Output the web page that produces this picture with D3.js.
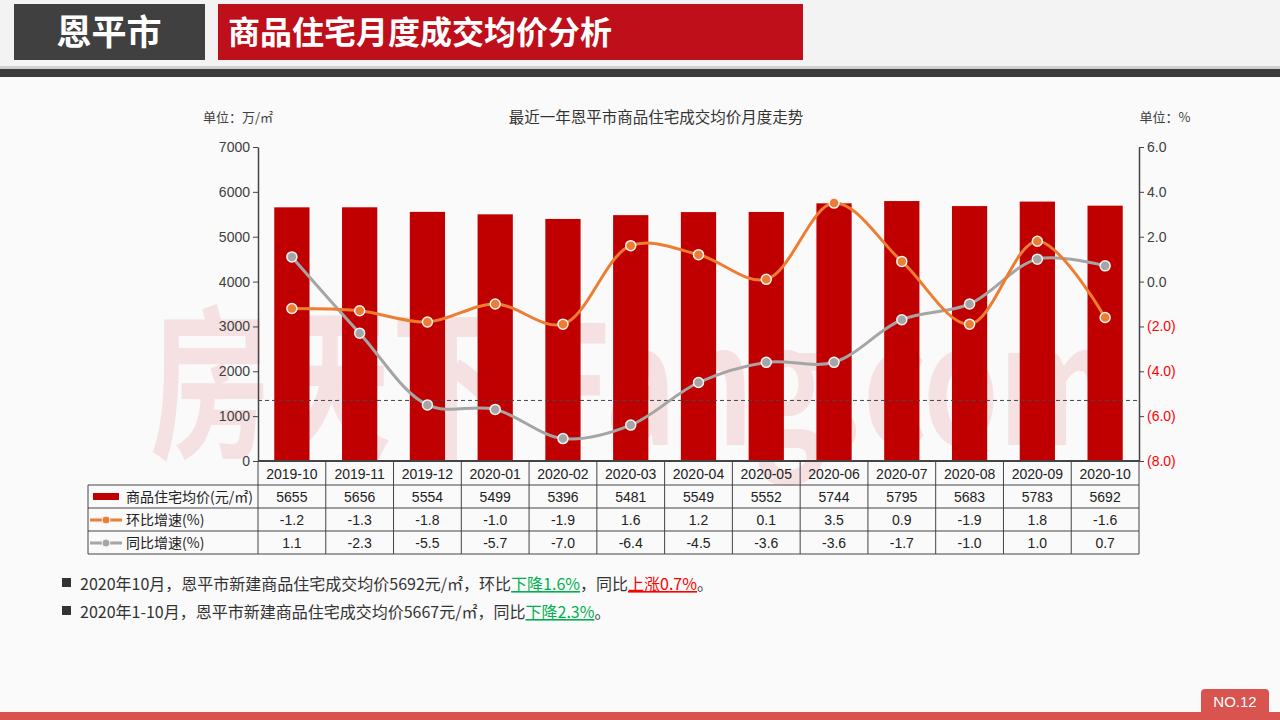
<!DOCTYPE html>
<html>
<head>
<meta charset="utf-8">
<script src="https://cdn.jsdelivr.net/npm/d3@7"></script>
<style>
body{margin:0;background:#fafafa;font-family:"Liberation Sans","Noto Sans CJK SC",sans-serif;}
svg{display:block;}
</style>
</head>
<body>
<script>
// data
var months=["2019-10","2019-11","2019-12","2020-01","2020-02","2020-03","2020-04","2020-05","2020-06","2020-07","2020-08","2020-09","2020-10"];
var price=[5655,5656,5554,5499,5396,5481,5549,5552,5744,5795,5683,5783,5692];
var hb=[-1.2,-1.3,-1.8,-1.0,-1.9,1.6,1.2,0.1,3.5,0.9,-1.9,1.8,-1.6];   // 环比
var tb=[1.1,-2.3,-5.5,-5.7,-7.0,-6.4,-4.5,-3.6,-3.6,-1.7,-1.0,1.0,0.7]; // 同比
var leftTicks=[0,1000,2000,3000,4000,5000,6000,7000];
var rightTicks=[-8,-6,-4,-2,0,2,4,6];
var refLine=-5.3; // dashed line, right axis value

var W=1280,H=720;
var svg=d3.select("body").append("svg").attr("width",W).attr("height",H);
var cjk='"Noto Sans CJK SC",sans-serif';
var f1=function(v){return d3.format(".1f")(v).replace("−","-");};

// ---- page frame
svg.append("rect").attr("x",0).attr("y",0).attr("width",W).attr("height",66).attr("fill","#f3f3f3");
svg.append("rect").attr("x",14).attr("y",4).attr("width",191).attr("height",56).attr("fill","#404040");
svg.append("text").attr("x",109).attr("y",45).attr("text-anchor","middle").attr("fill","#fff")
	.style("font-family",cjk).style("font-size","35px").style("font-weight","bold").text("恩平市");
svg.append("rect").attr("x",218).attr("y",4).attr("width",585).attr("height",56).attr("fill","#be0f1b");
svg.append("text").attr("x",228).attr("y",44).attr("fill","#fff")
	.style("font-family",cjk).style("font-size","32px").style("font-weight","bold").text("商品住宅月度成交均价分析");
svg.append("rect").attr("x",0).attr("y",66).attr("width",W).attr("height",3).attr("fill","#cfcfcf");
svg.append("rect").attr("x",0).attr("y",69).attr("width",W).attr("height",8).attr("fill","#3b3b3b");

svg.append("rect").attr("x",0).attr("y",712).attr("width",W).attr("height",8).attr("fill","#d9534f");
svg.append("path").attr("d","M1201,712V693q0,-4 4,-4H1265q4,0 4,4V712Z").attr("fill","#d9534f");
svg.append("text").attr("x",1235).attr("y",707).attr("text-anchor","middle").attr("fill","#fff")
	.style("font-size","15px").text("NO.12");

// ---- chart
var L=258,R=1139,T=147,B=461;
var x=d3.scaleBand().domain(months).range([L,R]).paddingInner(0.48).paddingOuter(0.24);
var xb=d3.scaleBand().domain(months).range([L,R]);
var yL=d3.scaleLinear().domain([0,7000]).range([B,T]);
var yR=d3.scaleLinear().domain([-8,6]).range([B,T]);

// watermark
svg.append("text").attr("x",150).attr("y",445).attr("fill","#f5e1e2")
	.attr("textLength",965).attr("lengthAdjust","spacingAndGlyphs")
	.style("font-family",cjk).style("font-size","165px").style("font-weight","bold")
	.text("房天下 Fang.com");

svg.selectAll(".bar").data(price).enter().append("rect")
	.attr("x",function(d,i){return x(months[i]);})
	.attr("y",function(d){return yL(d);})
	.attr("width",x.bandwidth())
	.attr("height",function(d){return B-yL(d);})
	.attr("fill","#c00000");

svg.append("line").attr("x1",L).attr("x2",R).attr("y1",yR(refLine)).attr("y2",yR(refLine))
	.attr("stroke","#444").attr("stroke-dasharray","4,3").attr("stroke-width",1);

function series(vals,col){
	var line=d3.line().curve(d3.curveCatmullRom.alpha(0.5))
		.x(function(d,i){return xb(months[i])+xb.bandwidth()/2;})
		.y(function(d){return yR(d);});
	svg.append("path").datum(vals).attr("d",line).attr("fill","none").attr("stroke",col).attr("stroke-width",3);
	svg.selectAll(null).data(vals).enter().append("circle")
		.attr("cx",function(d,i){return xb(months[i])+xb.bandwidth()/2;})
		.attr("cy",function(d){return yR(d);})
		.attr("r",5).attr("fill",col).attr("stroke","#f4f4f4").attr("stroke-width",1.5);
}
series(tb,"#a5a5a5");
series(hb,"#ed7d31");

// axes
var axL=svg.append("g").attr("transform","translate("+L+",0)")
	.call(d3.axisLeft(yL).tickValues(leftTicks).tickSize(5).tickSizeOuter(0).tickFormat(d3.format("d")));
var axR=svg.append("g").attr("transform","translate("+R+",0)")
	.call(d3.axisRight(yR).tickValues(rightTicks).tickSize(5).tickSizeOuter(0)
		.tickFormat(function(d){return d<0?"("+f1(-d)+")":f1(d);}));
[axL,axR].forEach(function(a){
	a.select(".domain").attr("stroke","#444").attr("stroke-width",1.5);
	a.selectAll(".tick line").attr("stroke","#444");
	a.selectAll("text").style("font-size","14px").attr("fill","#404040");
});
axR.selectAll(".tick text").attr("fill",function(d){return d<0?"#ff0000":"#404040";});

svg.append("text").attr("x",238).attr("y",122).attr("text-anchor","middle").attr("fill","#404040")
	.style("font-family",cjk).style("font-size","13px").text("单位：万/㎡");
svg.append("text").attr("x",1165).attr("y",122).attr("text-anchor","middle").attr("fill","#404040")
	.style("font-family",cjk).style("font-size","13px").text("单位：%");
svg.append("text").attr("x",656).attr("y",123).attr("text-anchor","middle").attr("fill","#333")
	.style("font-family",cjk).style("font-size","15.5px").text("最近一年恩平市商品住宅成交均价月度走势");

// ---- data table
var rowH=23,tTop=B+1,tLeft=88;
var rows=[
	{name:"商品住宅均价(元/㎡)",vals:price,fmt:d3.format("d"),key:"bar",col:"#c00000"},
	{name:"环比增速(%)",vals:hb,fmt:f1,key:"line",col:"#ed7d31"},
	{name:"同比增速(%)",vals:tb,fmt:f1,key:"line",col:"#a5a5a5"}
];
var tg=svg.append("g");
var lc="#444";
// header
months.forEach(function(m){
	tg.append("text").attr("x",xb(m)+xb.bandwidth()/2).attr("y",tTop+17).attr("text-anchor","middle")
		.attr("fill","#222").style("font-size","14px").text(m);
});
rows.forEach(function(r,j){
	var y0=tTop+rowH*(j+1);
	r.vals.forEach(function(v,i){
		tg.append("text").attr("x",xb(months[i])+xb.bandwidth()/2).attr("y",y0+17).attr("text-anchor","middle")
			.attr("fill","#222").style("font-size","14px").text(r.fmt(v));
	});
	if(r.key=="bar"){
		tg.append("rect").attr("x",tLeft+5).attr("y",y0+8).attr("width",26).attr("height",7).attr("fill",r.col);
	}else{
		tg.append("line").attr("x1",tLeft+2).attr("x2",tLeft+34).attr("y1",y0+12).attr("y2",y0+12)
			.attr("stroke",r.col).attr("stroke-width",3);
		tg.append("circle").attr("cx",tLeft+18).attr("cy",y0+12).attr("r",4).attr("fill",r.col)
			.attr("stroke","#f4f4f4");
	}
	tg.append("text").attr("x",tLeft+38).attr("y",y0+17).attr("fill","#222")
		.style("font-family",cjk).style("font-size","14px").text(r.name);
});
var tBot=tTop+rowH*4;
// grid lines
for(var j=1;j<=4;j++){
	tg.append("line").attr("x1",tLeft).attr("x2",R).attr("y1",tTop+rowH*j).attr("y2",tTop+rowH*j).attr("stroke",lc);
}
tg.append("line").attr("x1",tLeft).attr("x2",tLeft).attr("y1",tTop+rowH).attr("y2",tBot).attr("stroke",lc);
months.forEach(function(m){
	tg.append("line").attr("x1",xb(m)).attr("x2",xb(m)).attr("y1",tTop).attr("y2",tBot).attr("stroke",lc);
});
tg.append("line").attr("x1",R).attr("x2",R).attr("y1",tTop).attr("y2",tBot).attr("stroke",lc);
svg.append("line").attr("x1",L).attr("x2",R).attr("y1",B).attr("y2",B).attr("stroke","#444").attr("stroke-width",2);

// ---- notes
var notes=[
	[["2020年10月，恩平市新建商品住宅成交均价5692元/㎡，环比",null],["下降1.6%","#00b050"],["，同比",null],["上涨0.7%","#ff0000"],["。",null]],
	[["2020年1-10月，恩平市新建商品住宅成交均价5667元/㎡，同比",null],["下降2.3%","#00b050"],["。",null]]
];
notes.forEach(function(n,k){
	var yy=590+k*28;
	svg.append("rect").attr("x",62).attr("y",yy-12).attr("width",9).attr("height",9).attr("fill","#333");
	var t=svg.append("text").attr("x",80).attr("y",yy).style("font-family",cjk).style("font-size","16px").attr("fill","#333");
	n.forEach(function(p){
		var s=t.append("tspan").text(p[0]);
		if(p[1]) s.attr("fill",p[1]).style("text-decoration","underline");
	});
});
</script>
</body>
</html>
